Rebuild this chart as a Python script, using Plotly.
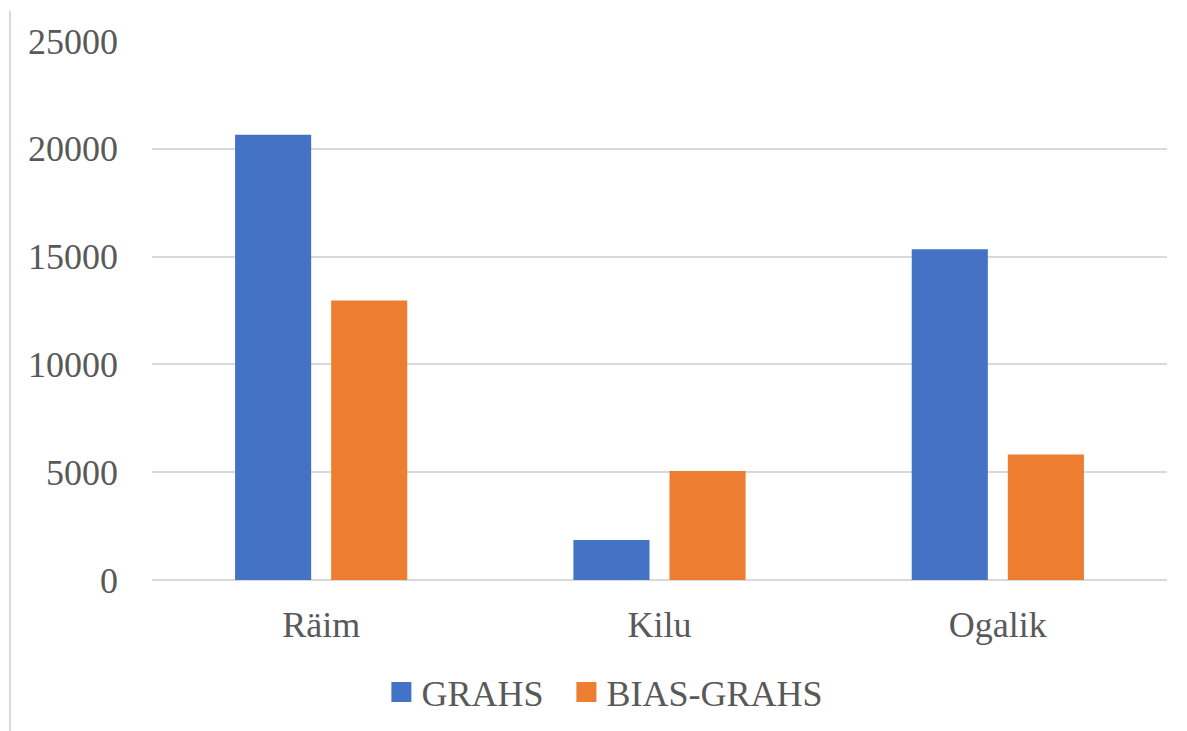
import plotly.graph_objects as go

categories = ["Räim", "Kilu", "Ogalik"]
grahs = [20650, 1860, 15340]
bias_grahs = [12960, 5050, 5820]
y_ticks = [0, 5000, 10000, 15000, 20000, 25000]
y_tick_labels = ["0", "5000", "10000", "15000", "20000", "25000"]
series_names = ["GRAHS", "BIAS-GRAHS"]

font_family = "Liberation Serif, Times New Roman, serif"
text_color = "#595959"
blue = "#4472C4"
orange = "#ED7D31"

fig = go.Figure()
fig.add_trace(go.Bar(name=series_names[0], x=categories, y=grahs, showlegend=False,
                     marker=dict(color=blue, line=dict(width=0))))
fig.add_trace(go.Bar(name=series_names[1], x=categories, y=bias_grahs, showlegend=False,
                     marker=dict(color=orange, line=dict(width=0))))
# legend proxies with larger square symbols
fig.add_trace(go.Scatter(name=series_names[0] + "\u00a0\u00a0", x=[None], y=[None], mode="markers",
                         marker=dict(symbol="square", size=16, color=blue,
                                     line=dict(color=blue, width=4))))
fig.add_trace(go.Scatter(name=series_names[1], x=[None], y=[None], mode="markers",
                         marker=dict(symbol="square", size=16, color=orange,
                                     line=dict(color=orange, width=4))))

fig.update_layout(
    width=1187, height=731,
    margin=dict(l=144, r=28, t=33, b=159),
    paper_bgcolor="white", plot_bgcolor="white",
    barmode="group", bargap=0.432, bargroupgap=0.208,
    font=dict(family=font_family, size=36, color=text_color),
    showlegend=True,
    legend=dict(orientation="h", x=0.226, xanchor="left", y=-0.208, yanchor="middle",
                font=dict(size=36, color=text_color), itemwidth=30, tracegroupgap=0),
    xaxis=dict(showgrid=False, showline=False, ticks="", ticklabelstandoff=20,
               tickfont=dict(size=36, color=text_color)),
    yaxis=dict(range=[0, 25000], tickvals=y_ticks, ticktext=y_tick_labels,
               showgrid=True, gridcolor="#d9d9d9", gridwidth=1.5,
               zeroline=True, zerolinecolor="#d9d9d9", zerolinewidth=2, showline=False,
               ticks="", ticklabelstandoff=33, tickfont=dict(size=36, color=text_color)),
    shapes=[dict(type="line", xref="paper", yref="paper", x0=-0.14, x1=-0.14, y0=1.056, y1=-0.3,
                 line=dict(color="#d9d9d9", width=2))],
)

fig.write_html("out.html")
